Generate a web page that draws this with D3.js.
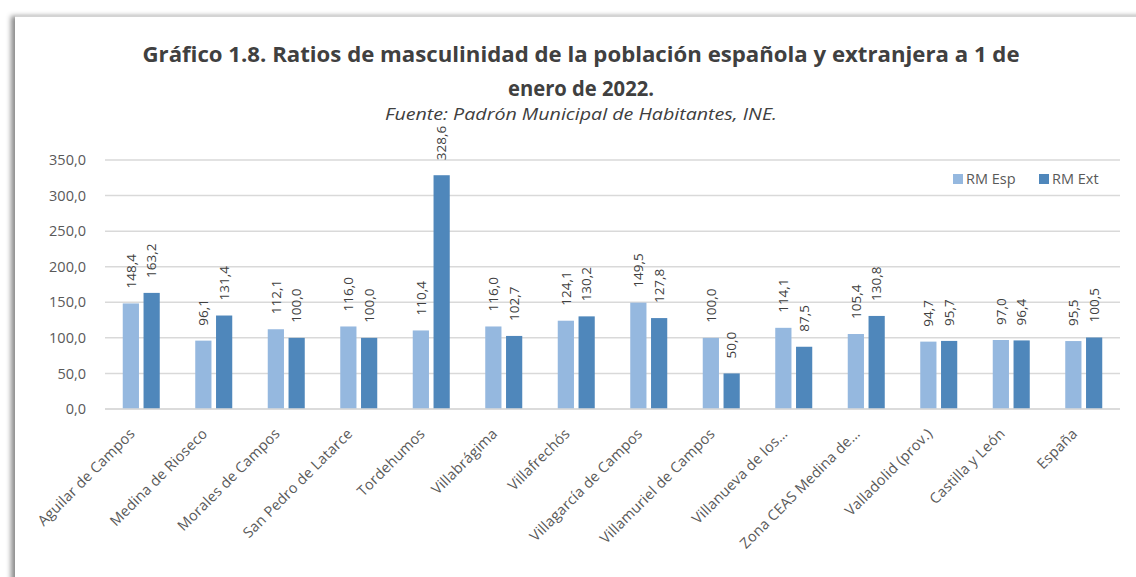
<!DOCTYPE html>
<html>
<head>
<meta charset="utf-8">
<script src="https://cdn.jsdelivr.net/npm/d3@7"></script>
<style>
  html, body { margin: 0; padding: 0; background: #fff; }
  body { width: 1136px; height: 577px; overflow: hidden; position: relative; }
  #card {
    position: absolute; left: 15px; top: 15px; width: 1140px; height: 580px;
    background: #fff; border-top: 2px solid #d4d4d4;
    box-shadow: -5px 0 5px -1px rgba(0,0,0,0.45);
  }
  #chart { position: absolute; left: 0; top: 0; }
</style>
</head>
<body>
<div id="card"></div>
<div id="chart"></div>
<script>
// ── Data ────────────────────────────────────────────────────────────────
const categories = [
  "Aguilar de Campos", "Medina de Rioseco", "Morales de Campos", "San Pedro de Latarce",
  "Tordehumos", "Villabrágima", "Villafrechós", "Villagarcía de Campos",
  "Villamuriel de Campos", "Villanueva de los…", "Zona CEAS Medina de…",
  "Valladolid (prov.)", "Castilla y León", "España"
];
const rmEsp = [148.4, 96.1, 112.1, 116.0, 110.4, 116.0, 124.1, 149.5, 100.0, 114.1, 105.4, 94.7, 97.0, 95.5];
const rmExt = [163.2, 131.4, 100.0, 100.0, 328.6, 102.7, 130.2, 127.8, 50.0, 87.5, 130.8, 95.7, 96.4, 100.5];
const seriesNames = ["RM Esp", "RM Ext"];
const yTicks = [0, 50, 100, 150, 200, 250, 300, 350];

// ── Palette ─────────────────────────────────────────────────────────────
const LIGHT = "#95b8df";
const DARK  = "#4f87bb";
const GRID  = "#d9d9d9";
const TXT   = "#595959";
const FONT  = "'Open Sans', 'DejaVu Sans', sans-serif";

const fmt = v => d3.format(".1f")(v).replace(".", ",");

const W = 1136, H = 577;
const svg = d3.select("#chart").append("svg")
  .attr("width", W).attr("height", H)
  .style("font-family", FONT);

// Titles
svg.append("text")
  .attr("x", 581).attr("y", 62).attr("text-anchor", "middle")
  .attr("fill", "#404040").style("font-size", "21px").style("font-weight", "700")
  .attr("textLength", 877).attr("lengthAdjust", "spacingAndGlyphs")
  .text("Gráfico 1.8. Ratios de masculinidad de la población española y extranjera a 1 de");
svg.append("text")
  .attr("x", 581).attr("y", 96).attr("text-anchor", "middle")
  .attr("fill", "#404040").style("font-size", "21px").style("font-weight", "700")
  .attr("textLength", 146).attr("lengthAdjust", "spacingAndGlyphs")
  .text("enero de 2022.");
svg.append("text")
  .attr("x", 581).attr("y", 120).attr("text-anchor", "middle")
  .attr("fill", "#404040").style("font-size", "16px").style("font-style", "italic")
  .attr("textLength", 392).attr("lengthAdjust", "spacingAndGlyphs")
  .text("Fuente: Padrón Municipal de Habitantes, INE.");

// Scales
const x = d3.scaleBand().domain(categories).range([105, 1120]).padding(0);
const x1 = d3.scaleBand().domain(seriesNames).range([0, 37]).paddingInner(0.22);
const y = d3.scaleLinear().domain([0, 350]).range([409, 160]);
const color = d3.scaleOrdinal().domain(seriesNames).range([LIGHT, DARK]);

// Grid
svg.append("g")
  .selectAll("line").data(yTicks).enter().append("line")
  .attr("x1", 105).attr("x2", 1120)
  .attr("y1", d => y(d)).attr("y2", d => y(d))
  .attr("stroke", GRID).attr("stroke-width", 1.5);

// Y axis
const yAxis = svg.append("g").attr("transform", "translate(92,0)")
  .call(d3.axisLeft(y).tickValues(yTicks).tickSize(0).tickFormat(fmt));
yAxis.select(".domain").remove();
yAxis.selectAll("text").attr("fill", TXT).style("font-size", "14.5px")
  .style("font-family", FONT).attr("x", -6);

// Bars
const rows = categories.map((c, i) => ({ cat: c, values: [
  { key: "RM Esp", v: rmEsp[i] }, { key: "RM Ext", v: rmExt[i] }
]}));

const groups = svg.append("g").selectAll("g").data(rows).enter().append("g")
  .attr("transform", d => `translate(${x(d.cat) + x.bandwidth() / 2 - 18.5},0)`);

groups.selectAll("rect").data(d => d.values).enter().append("rect")
  .attr("x", d => x1(d.key))
  .attr("width", x1.bandwidth())
  .attr("y", d => y(d.v))
  .attr("height", d => y(0) - y(d.v))
  .attr("fill", d => color(d.key));

groups.selectAll("text").data(d => d.values).enter().append("text")
  .attr("transform", d => `translate(${x1(d.key) + x1.bandwidth() / 2},${y(d.v) - 15}) rotate(-90)`)
  .attr("dy", "0.35em")
  .attr("fill", "#404040").style("font-size", "13.5px")
  .text(d => fmt(d.v));

// X axis
svg.append("line")
  .attr("x1", 105).attr("x2", 1120).attr("y1", y(0)).attr("y2", y(0))
  .attr("stroke", GRID).attr("stroke-width", 1.5);

svg.append("g").selectAll("text").data(categories).enter().append("text")
  .attr("transform", d => `translate(${x(d) + x.bandwidth() / 2 - 9},${y(0) + 22}) rotate(-45)`)
  .attr("text-anchor", "end")
  .attr("dy", "0.35em")
  .attr("fill", TXT).style("font-size", "14.5px").style("letter-spacing", "0.2px")
  .text(d => d);

// Legend
const legend = svg.append("g").attr("transform", "translate(953,179)");
const li = legend.selectAll("g").data(seriesNames).enter().append("g")
  .attr("transform", (d, i) => `translate(${i * 86},0)`);
li.append("rect").attr("x", 0).attr("y", -5).attr("width", 10).attr("height", 10)
  .attr("fill", d => color(d));
li.append("text").attr("x", 13).attr("dy", "0.35em")
  .attr("fill", TXT).style("font-size", "14.5px")
  .text(d => d);
</script>
</body>
</html>
